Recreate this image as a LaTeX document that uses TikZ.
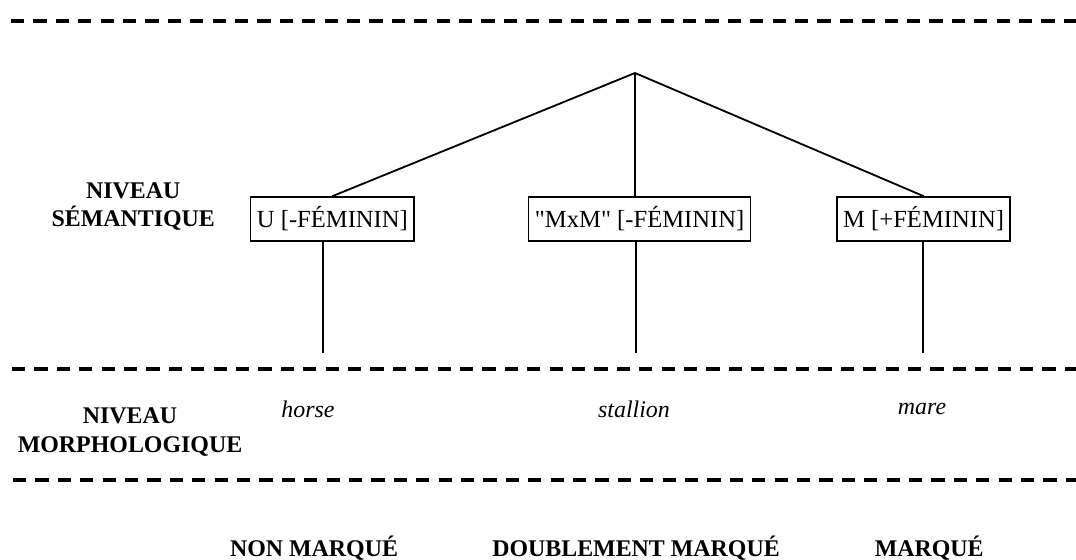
\documentclass[tikz,border=0pt]{standalone}
\usepackage{fontspec}
\setmainfont{Liberation Serif}
\usepackage{tikz}
\usetikzlibrary{positioning}

\tikzset{
    levelline/.style={line width=2.6pt, dash pattern=on 0.33cm off 0.23cm},
    featbox/.style={draw, line width=1.2pt, inner xsep=4.5pt, minimum height=1.1cm, font=\fontsize{17.5}{20}\selectfont},
    branch/.style={line width=1.3pt},
    levellabel/.style={align=center, font=\fontsize{17}{20}\selectfont\bfseries},
    wordlabel/.style={anchor=base, font=\fontsize{17}{20}\selectfont\itshape},
    marklabel/.style={anchor=base, font=\fontsize{17}{20}\selectfont\bfseries}
}

\begin{document}
\begin{tikzpicture}

    % Define parameters for easy adjustment
    \def\picWidth{26.9}      % Width of the picture
    \def\picHeight{14}       % Height of the picture
    \def\boxY{-5.475}        % Height of the feature boxes
    \def\stemY{-8.825}       % Lower end of the stems
    \def\wordY{-10.43}       % Baseline of the words

    \useasboundingbox (0,0) rectangle (\picWidth,-\picHeight);

    % 1. Draw the dashed level separators
    \draw[levelline] (0.275,-0.525) -- (\picWidth,-0.525);
    \draw[levelline] (0.3,-9.225) -- (\picWidth,-9.225);
    \draw[levelline, line width=2.2pt] (0.325,-12) -- (\picWidth,-12);

    % 2. Level labels
    \node[levellabel] (semlevel) at (3.33,-5.17) {NIVEAU\\SÉMANTIQUE};
    \node[levellabel] (morphlevel) at (3.25,-10.8) {NIVEAU\\MORPHOLOGIQUE};

    % 3. Feature boxes and the root of the tree
    \coordinate (root) at (15.875,-1.825);
    \node[featbox] (unmarked) at (8.31,\boxY) {U [-FÉMININ]};
    \node[featbox] (double) at (15.99,\boxY) {\textquotedbl MxM\textquotedbl{} [-FÉMININ]};
    \node[featbox] (marked) at (23.09,\boxY) {M [+FÉMININ]};

    % 4. Branches from the root to the boxes
    \draw[branch] (root) -- (unmarked.north);
    \draw[branch] (root) -- (double.north -| root);
    \draw[branch] (root) -- (marked.north);

    % 5. Stems below the boxes
    \coordinate (unmarked-end) at (8.08,\stemY);
    \coordinate (double-end) at (15.9,\stemY);
    \coordinate (marked-end) at (23.07,\stemY);
    \draw[branch] (unmarked.south -| unmarked-end) -- (unmarked-end);
    \draw[branch] (double.south -| double-end) -- (double-end);
    \draw[branch] (marked.south -| marked-end) -- (marked-end);

    % 6. Words on the morphological level
    \node[wordlabel] (horse) at (7.7,\wordY) {horse};
    \node[wordlabel] (stallion) at (15.85,\wordY) {stallion};
    \node[wordlabel] (mare) at (23.05,-10.35) {mare};

    % 7. Markedness labels
    \node[marklabel] (nonmarque) at (7.85,-13.92) {NON MARQUÉ};
    \node[marklabel] (doublement) at (15.9,-13.92) {DOUBLEMENT MARQUÉ};
    \node[marklabel] (marque) at (23.23,-13.92) {MARQUÉ};
\end{tikzpicture}
\end{document}
